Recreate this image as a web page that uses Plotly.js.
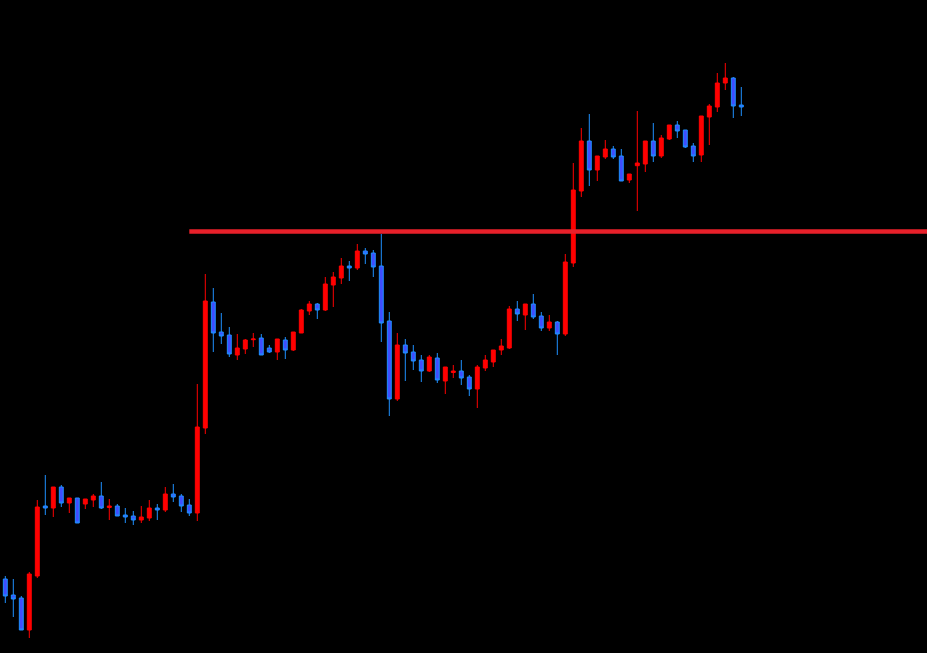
<!DOCTYPE html>
<html>
<head>
<meta charset="utf-8">
<script src="https://cdn.plot.ly/plotly-3.0.1.min.js"></script>
<style>
html,body{margin:0;padding:0;background:#000;}
#chart{width:927px;height:653px;}
</style>
</head>
<body>
<div id="chart"></div>
<script>
// OHLC values (price points), one entry per bar
const openP  = [74,58,55,23,77,147,145,166,150,155,149,153,157,145.5,147,138,137,133,135,145,143,159,157,148,
  140,225,351,321,318,298,304,313.3,315,305,301,313,303,320,342,349,343,368,375,387,385,402,400,387,332,254,
  308,301,293,282,295,272,280.5,282,276,264,285,291,303,305,344,338,349,337,325,331,319,390,462,512,483,496,
  504,497,473,487.3,489,512,497,514,528,523,507,498,536,546,570,575,548];
const highP  = [77,74,57,81,153,178,166,168,155,155,154,159,171,154,149,145,142,147,153,149,166,169,159,154,
  269,379,365,340,326,319,314,320,319,308,314,316,321,344,352,350,376,381,395,392,409,405,403,419,341,320,
  314,308,298,298,300,286,288,293,278,288,298,303,314,347,352,349,359,341,338,332,399,490,525,539,497,513,
  507,504,479,542,512,530,518,528,532,523,510,537,549,580,590,576,566];
const lowP   = [50,36,23,15,75,138,136,146,140,130,144,146,144,133,137,130,128,130,132,133,141,151,141,137,
  132,219,301,309,296,293,299,306,298,300,293,294,302,320,338,334,342,346,369,372,383,389,376,311,237,252,
  272,283,271,281,270,259,275,268,257,245,282,286,298,304,332,323,334,322,322,298,317,386,456,467,472,494,
  494,472,470,442,481,491,495,513,515,505,491,491,508,541,563,535,537];
const closeP = [57,54,23,79,146,145,166,150,155,130,154,157,145,147,137,136,133,136,145,143,159,156,147,140,
  226,352,320,317,299,305,313,314,298,301,314,303,321,343,349,343,369,376,387,385,402,399,386,330,254,308,
  300,292,282,296,273,286,282,275,264,286,293,303,307,344,339,349,336,325,331,319,391,463,512,483,497,504,
  496,472,479,490,512,497,515,528,522,506,497,537,547,570,575,547,546];
// horizontal level and the bar where it starts
const levelPrice = 421.5;
const levelStartBar = 23;

const bars = openP.map((_, i) => i);

const trace = {
  type: 'candlestick',
  x: bars,
  open: openP, high: highP, low: lowP, close: closeP,
  increasing: {line: {color: '#ff0000', width: 1}, fillcolor: '#ff0000'},
  decreasing: {line: {color: '#1e90ff', width: 1}, fillcolor: '#3f4dff'},
  whiskerwidth: 0,
  hoverinfo: 'skip'
};

const layout = {
  width: 927, height: 653,
  margin: {l: 0, r: 0, t: 0, b: 0},
  paper_bgcolor: '#000000', plot_bgcolor: '#000000',
  showlegend: false,
  hovermode: false,
  xaxis: {range: [-0.6625, 115.2125], visible: false, rangeslider: {visible: false}, fixedrange: true},
  yaxis: {range: [0, 653], visible: false, fixedrange: true},
  shapes: [{
    type: 'line', xref: 'x', yref: 'y',
    x0: levelStartBar, x1: 120, y0: levelPrice, y1: levelPrice,
    line: {color: '#e8202a', width: 4.5}
  }]
};

Plotly.newPlot('chart', [trace], layout, {displayModeBar: false, staticPlot: true});
</script>
</body>
</html>
